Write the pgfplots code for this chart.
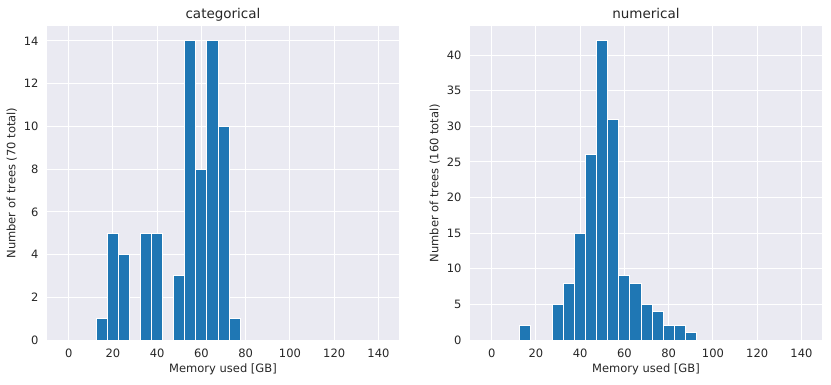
\documentclass[border=0pt]{standalone}
\usepackage{fontspec}
\setmainfont{DejaVu Sans}
\usepackage{pgfplots}
\pgfplotsset{compat=1.18}

\definecolor{sbbg}{HTML}{EAEAF2}
\definecolor{barblue}{HTML}{1F77B4}
\definecolor{txt}{HTML}{262626}

\pgfplotsset{
  histstyle/.style={
    width=352pt, height=314pt, scale only axis,
    xmin=-9.8, xmax=149.3, ymin=0,
    axis background/.style={fill=sbbg},
    axis line style={draw=none},
    major tick length=0pt,
    grid=major,
    major grid style={white, line width=1pt},
    xtick={0,20,...,140},
    tick label style={font=\fontsize{11.5}{13}\selectfont, color=txt},
    xticklabel style={yshift=-5pt},
    yticklabel style={xshift=-5pt},
    label style={font=\fontsize{11.5}{13}\selectfont, color=txt},
    title style={font=\fontsize{13.5}{16}\selectfont, color=txt,
      at={(0.5,1)}, anchor=base, yshift=2pt},
    /pgf/number format/assume math mode=true,
    xlabel={Memory used [GB]},
    ybar, bar width=5, bar shift=0pt,
  },
  histbar/.style={fill=barblue, draw=white, line width=1pt},
}

\begin{document}
\begin{tikzpicture}
\path[use as bounding box] (0,0) rectangle (831pt,384pt);

% left panel
\begin{axis}[histstyle, at={(47pt,44pt)}, anchor=south west,
  title={categorical}, ymax=14.7, ytick={0,2,...,14},
  ylabel={Number of trees (70 total)}]
\addplot[histbar] coordinates {
  (15,1) (20,5) (25,4) (35,5) (40,5) (50,3) (55,14)
  (60,8) (65,14) (70,10) (75,1)};
\end{axis}

% right panel
\begin{axis}[histstyle, at={(470pt,44pt)}, anchor=south west,
  title={numerical}, ymax=44.1, ytick={0,5,...,40},
  ylabel={Number of trees (160 total)}]
\addplot[histbar] coordinates {
  (15,2) (30,5) (35,8) (40,15) (45,26) (50,42) (55,31)
  (60,9) (65,8) (70,5) (75,4) (80,2) (85,2) (90,1)};
\end{axis}
\end{tikzpicture}
\end{document}
